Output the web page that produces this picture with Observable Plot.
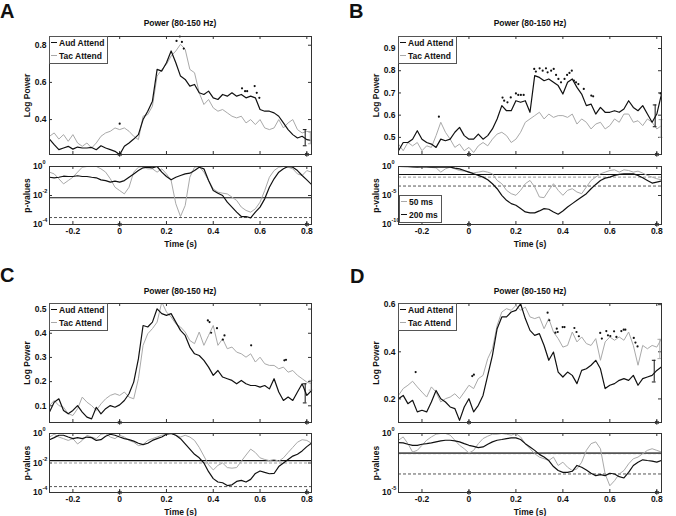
<!DOCTYPE html>
<html><head><meta charset="utf-8">
<script src="https://cdn.jsdelivr.net/npm/d3@7"></script>
<script src="https://cdn.jsdelivr.net/npm/@observablehq/plot@0.6"></script>
<style>
body{margin:0;background:#fff;}
#fig{position:relative;width:676px;height:516px;background:#fff;font-family:"Liberation Sans",Arial,sans-serif;font-weight:bold;color:#111;overflow:hidden}
.letter{position:absolute;font-size:20px;font-weight:bold;line-height:1}
.title{position:absolute;font-size:8.5px;text-align:center;width:200px;line-height:1}
.legend{position:absolute;border:1px solid #555;background:#fff;font-size:8.5px;line-height:13px;padding:0 3px 0 1px;white-space:nowrap}
.legend .sw{display:inline-block;width:6px;height:0;vertical-align:middle;margin-right:2px;position:relative;top:-1px}
</style></head><body><div id="fig"></div><script>
// ---------- data ----------
const time = [-0.30,-0.28,-0.26,-0.24,-0.22,-0.20,-0.18,-0.16,-0.14,-0.12,-0.10,-0.08,-0.06,-0.04,-0.02,0,0.02,0.04,0.06,0.08,0.10,0.12,0.14,0.16,0.18,0.20,0.22,0.24,0.26,0.28,0.30,0.32,0.34,0.36,0.38,0.40,0.42,0.44,0.46,0.48,0.50,0.52,0.54,0.56,0.58,0.60,0.62,0.64,0.66,0.68,0.70,0.72,0.74,0.76,0.78,0.80,0.82];
const xTicks = [-0.2, 0, 0.2, 0.4, 0.6, 0.8];
const stimTimes = [0, 0.8];

// Log power, Aud Attend (black) / Tac Attend (gray)
const audA = [0.295,0.265,0.238,0.247,0.256,0.241,0.252,0.247,0.247,0.250,0.238,0.259,0.247,0.238,0.229,0.211,0.256,0.274,0.295,0.319,0.400,0.445,0.499,0.670,0.661,0.706,0.769,0.706,0.634,0.616,0.580,0.589,0.544,0.535,0.553,0.517,0.508,0.535,0.526,0.544,0.526,0.535,0.517,0.526,0.517,0.454,0.445,0.445,0.436,0.418,0.382,0.346,0.319,0.301,0.310,0.292,0.288];
const tacA = [0.310,0.328,0.295,0.319,0.283,0.319,0.274,0.256,0.274,0.247,0.274,0.310,0.328,0.337,0.355,0.346,0.355,0.337,0.310,0.292,0.418,0.427,0.472,0.634,0.670,0.697,0.742,0.769,0.805,0.778,0.670,0.652,0.544,0.481,0.508,0.463,0.445,0.454,0.436,0.418,0.409,0.418,0.382,0.400,0.373,0.400,0.355,0.346,0.355,0.400,0.355,0.382,0.400,0.346,0.328,0.337,0.328];
const audB = [0.440,0.477,0.477,0.492,0.530,0.492,0.477,0.470,0.455,0.492,0.485,0.492,0.523,0.545,0.508,0.492,0.492,0.515,0.492,0.508,0.538,0.583,0.643,0.620,0.620,0.665,0.658,0.665,0.613,0.778,0.770,0.755,0.763,0.748,0.733,0.695,0.748,0.763,0.725,0.695,0.643,0.650,0.605,0.635,0.613,0.613,0.620,0.613,0.628,0.665,0.635,0.620,0.643,0.605,0.568,0.605,0.695];
const tacB = [0.470,0.440,0.477,0.462,0.477,0.440,0.462,0.455,0.508,0.568,0.523,0.492,0.455,0.470,0.440,0.455,0.432,0.462,0.477,0.462,0.492,0.515,0.523,0.508,0.477,0.492,0.523,0.568,0.583,0.598,0.613,0.583,0.605,0.590,0.598,0.598,0.590,0.605,0.560,0.583,0.568,0.538,0.560,0.568,0.538,0.553,0.583,0.568,0.605,0.605,0.568,0.575,0.553,0.583,0.568,0.538,0.553];
const audC = [0.074,0.115,0.129,0.081,0.067,0.081,0.101,0.074,0.053,0.046,0.094,0.067,0.088,0.101,0.094,0.104,0.122,0.150,0.198,0.294,0.432,0.426,0.446,0.501,0.481,0.474,0.481,0.446,0.412,0.391,0.343,0.315,0.308,0.288,0.260,0.226,0.246,0.219,0.212,0.205,0.191,0.205,0.191,0.184,0.184,0.177,0.184,0.170,0.212,0.157,0.122,0.136,0.122,0.157,0.191,0.143,0.163];
const tacC = [0.101,0.122,0.101,0.094,0.067,0.060,0.088,0.136,0.115,0.101,0.081,0.108,0.129,0.143,0.150,0.143,0.157,0.136,0.129,0.212,0.350,0.398,0.419,0.446,0.529,0.488,0.467,0.439,0.426,0.405,0.370,0.357,0.405,0.350,0.391,0.432,0.350,0.377,0.336,0.343,0.322,0.315,0.301,0.315,0.281,0.301,0.274,0.267,0.267,0.253,0.260,0.239,0.246,0.226,0.212,0.198,0.191];
const audD = [0.201,0.215,0.180,0.194,0.145,0.152,0.145,0.187,0.236,0.201,0.187,0.166,0.159,0.109,0.166,0.201,0.145,0.173,0.215,0.300,0.385,0.498,0.548,0.548,0.569,0.576,0.604,0.541,0.491,0.470,0.477,0.427,0.364,0.399,0.314,0.293,0.314,0.300,0.265,0.321,0.328,0.343,0.364,0.328,0.244,0.258,0.265,0.279,0.286,0.279,0.300,0.258,0.286,0.293,0.300,0.321,0.336];
const tacD = [0.215,0.244,0.258,0.275,0.251,0.229,0.208,0.251,0.229,0.187,0.201,0.208,0.222,0.201,0.229,0.258,0.244,0.286,0.300,0.371,0.413,0.512,0.569,0.583,0.576,0.597,0.576,0.590,0.548,0.541,0.548,0.498,0.541,0.484,0.456,0.420,0.427,0.484,0.442,0.463,0.435,0.427,0.456,0.364,0.442,0.463,0.449,0.463,0.449,0.484,0.427,0.343,0.427,0.413,0.427,0.420,0.456];

// significance dots (time, log power)
const sigA_t = [0.0,0.243,0.257,0.266,0.274,0.523,0.536,0.545,0.577,0.586,0.597];
const sigA_v = [0.378,0.823,0.847,0.818,0.782,0.568,0.553,0.553,0.580,0.544,0.517];
const sigB_t = [-0.128,0.143,0.150,0.164,0.178,0.200,0.210,0.221,0.233,0.278,0.285,0.301,0.314,0.328,0.335,0.350,0.361,0.371,0.381,0.392,0.407,0.418,0.428,0.438,0.447,0.456,0.466,0.489,0.521,0.529,0.816];
const sigB_v = [0.593,0.679,0.665,0.658,0.680,0.698,0.691,0.691,0.691,0.808,0.796,0.811,0.800,0.811,0.793,0.800,0.808,0.781,0.763,0.748,0.763,0.781,0.790,0.800,0.755,0.748,0.740,0.718,0.688,0.685,0.698];
const sigC_t = [0.377,0.384,0.391,0.416,0.441,0.448,0.562,0.704,0.711];
const sigC_v = [0.453,0.446,0.402,0.421,0.374,0.391,0.350,0.288,0.290];
const sigD_t = [-0.227,0.014,0.021,0.335,0.342,0.368,0.374,0.378,0.399,0.407,0.449,0.458,0.468,0.559,0.566,0.585,0.592,0.602,0.618,0.628,0.649,0.659,0.666,0.702,0.709,0.718];
const sigD_v = [0.314,0.297,0.303,0.566,0.534,0.481,0.498,0.484,0.505,0.505,0.501,0.484,0.466,0.480,0.456,0.488,0.470,0.467,0.487,0.463,0.488,0.494,0.494,0.459,0.439,0.423];

// error bars: [time, low, high] for Aud and Tac
const errAudA = [0.793, 0.259, 0.346], errTacA = [0.815, 0.270, 0.335];
const errAudB = [0.793, 0.548, 0.646], errTacB = [0.818, 0.500, 0.580];
const errAudC = [0.793, 0.112, 0.191], errTacC = [0.818, 0.165, 0.205];
const errAudD = [0.789, 0.272, 0.364], errTacD = [0.813, 0.371, 0.453];

// p-values as log10 exponents (black = Aud / 200 ms, gray = Tac / 50 ms)
const pAudA = [-0.74,-0.78,-0.74,-0.67,-0.69,-0.69,-0.64,-0.69,-0.69,-0.74,-0.78,-0.92,-0.97,-1.08,-1.01,-1.08,-0.97,-0.74,-0.51,-0.28,-0.09,-0.05,-0.09,0,-0.39,-0.69,-0.92,-0.74,-0.62,-0.51,-0.46,-0.28,-0.05,-0.16,-0.97,-1.66,-1.84,-2.00,-2.46,-2.80,-3.15,-3.45,-3.45,-3.54,-3.15,-2.80,-2.23,-1.43,-0.85,-0.39,-0.16,0,-0.05,-0.28,-0.62,-0.92,-1.24];
const pTacA = [-0.39,-0.51,-0.85,-1.20,-0.97,-0.74,-0.39,-0.05,0,0,0,-0.16,-0.39,-0.85,-1.43,-1.66,-1.89,-1.43,-0.39,-0.05,0,-0.16,-0.16,-0.39,-0.16,-0.51,-0.97,-2.57,-3.45,-2.69,-0.74,-0.05,0,-0.39,-0.97,-1.54,-1.77,-1.84,-1.89,-2.11,-2.34,-2.80,-3.03,-3.15,-2.92,-2.46,-1.66,-0.74,-0.28,-0.05,0,-0.05,-0.16,-0.51,-0.62,-0.28,-0.39];
const pAudB = [0,0,0,-0.06,-0.11,-0.06,-0.06,-0.11,-0.11,-0.11,-0.11,-0.11,-0.29,-0.40,-0.69,-0.97,-1.26,-1.54,-1.83,-2.29,-2.97,-3.83,-4.97,-5.83,-6.40,-6.69,-7.26,-7.83,-8.0,-8.0,-7.66,-7.26,-7.37,-7.83,-8.23,-7.66,-6.97,-6.40,-5.83,-5.26,-4.69,-3.83,-3.09,-2.40,-2.0,-1.83,-1.54,-1.37,-1.26,-1.26,-1.26,-1.54,-1.94,-2.40,-2.86,-2.69,-2.51];
const pTacB = [0,-0.06,-0.11,-0.06,0,-0.06,-0.11,-0.17,-0.23,-0.97,-0.40,-0.11,-0.40,-0.69,-0.80,-0.97,-1.09,-0.97,-0.80,-0.97,-1.26,-2.40,-2.97,-4.11,-4.69,-4.97,-4.11,-2.97,-2.40,-3.54,-5.26,-5.37,-4.11,-2.97,-4.11,-4.97,-4.11,-3.83,-4.40,-4.69,-3.54,-2.40,-1.83,-1.26,-0.97,-0.69,-0.57,-0.97,-0.57,-0.69,-0.97,-0.80,-1.14,-1.54,-1.83,-2.11,-2.29];
const pAudC = [-0.42,-0.28,-0.12,-0.12,-0.24,-0.35,-0.28,-0.35,-0.24,-0.28,-0.47,-0.42,-0.19,-0.05,-0.12,-0.24,-0.35,-0.42,-0.52,-0.66,-0.75,-0.66,-0.47,-0.35,-0.24,-0.05,0,-0.12,-0.35,-0.71,-1.06,-1.41,-1.65,-2.0,-2.59,-3.06,-3.29,-3.34,-3.53,-3.48,-3.25,-3.18,-3.29,-3.11,-2.71,-2.54,-2.64,-2.73,-2.71,-2.24,-2.0,-1.76,-1.53,-1.41,-1.18,-0.89,-0.66];
const pTacC = [-0.24,-0.05,-0.24,-0.35,-0.47,-0.35,-0.71,-0.47,-0.12,-0.24,-0.35,-0.05,0,-0.24,-0.35,-0.12,-0.24,-0.47,-0.59,-0.82,-0.75,-0.47,-0.35,-0.24,-0.12,-0.05,0,-0.12,-0.24,-0.12,-0.24,-0.47,-0.94,-1.53,-2.12,-2.47,-2.16,-2.0,-2.31,-2.35,-2.31,-1.88,-1.46,-1.06,-1.29,-1.65,-1.76,-1.84,-1.76,-1.88,-1.65,-1.29,-0.94,-0.59,-0.42,-0.47,-0.66];
const pAudD = [-0.77,-0.80,-0.91,-1.0,-1.0,-0.91,-0.86,-0.80,-0.71,-0.63,-0.57,-0.57,-0.63,-0.71,-0.86,-1.0,-1.09,-1.2,-1.14,-0.91,-0.71,-0.57,-0.51,-0.43,-0.37,-0.37,-0.51,-0.86,-1.14,-1.43,-1.77,-2.0,-2.29,-2.8,-3.14,-3.29,-3.29,-3.2,-2.71,-2.86,-3.09,-3.37,-3.57,-3.49,-3.57,-3.37,-3.43,-3.66,-3.77,-3.29,-2.71,-2.43,-2.23,-2.29,-2.34,-2.43,-2.29];
const pTacD = [-0.57,-0.29,-0.86,-1.57,-1.43,-1.0,-0.57,-0.29,-0.06,0,0,-0.14,-0.57,-1.0,-1.29,-1.66,-1.43,-0.86,-0.43,-0.23,-0.06,-0.06,0,-0.06,-0.14,0,-0.29,-0.86,-1.29,-1.71,-2.0,-2.14,-2.29,-2.0,-2.71,-2.43,-2.86,-3.14,-3.0,-2.43,-1.43,-0.86,-0.71,-1.29,-3.43,-4.43,-4.0,-3.43,-3.14,-2.57,-2.14,-2.0,-1.71,-1.43,-1.29,-1.43,-1.57];

// threshold lines (log10 p) : solid, light dashed, dark dashed
const thrSolid = [-2.16, -1.37, -1.84, -1.66];
const thrLight = [null, -1.83, -2.0, -1.71];
const thrDark  = [-3.52, -3.37, -3.6, -3.43];

// axis ticks / domains
const powerTicks = [[0.4,0.6,0.8],[0.5,0.6,0.7,0.8,0.9],[0.1,0.2,0.3,0.4,0.5],[0.2,0.4,0.6]];
const powerDomains = [[0.212,0.847],[0.423,0.954],[0.031,0.523],[0.100,0.605]];
const pTicks = [[1e-4,1e-2,1],[1e-10,1e-5,1],[1e-4,1e-2,1],[1e-5,1]];
const pDomains = [[1e-4,1],[1e-10,1],[1e-4,1],[1e-5,1]];
const panelLetters = ["A","B","C","D"];
const titleText = "Power (80-150 Hz)";
const legendTop = ["Aud Attend","Tac Attend"];
const legendP = ["50 ms","200 ms"];

// ---------- drawing ----------
const fig = document.getElementById("fig");
const FONT = '"Liberation Sans", Arial, sans-serif';
const BLACK = "#111", GRAY = "#a9a9a9";
const xDomain = [-0.3, 0.82];

function place(el, left, top){ el.style.position="absolute"; el.style.left=left+"px"; el.style.top=top+"px"; fig.appendChild(el); return el; }
function series(ts, vs){ return ts.map((t,i)=>({t, v: vs[i]})); }
function pseries(ts, es){ return ts.map((t,i)=>({t, v: Math.pow(10, es[i])})); }

function errMarks(e, stroke){
  const d = [{t:e[0], lo:e[1], hi:e[2]}];
  return [
    Plot.ruleX(d, {x:"t", y1:"lo", y2:"hi", stroke, strokeWidth:1}),
    Plot.ruleY(d, {y:"lo", x1:r=>r.t-0.008, x2:r=>r.t+0.008, stroke}),
    Plot.ruleY(d, {y:"hi", x1:r=>r.t-0.008, x2:r=>r.t+0.008, stroke})
  ];
}

function subplot({fx0, fx1, fy0, fy1, y, yTicks, yFmt, yLabel, bottomAxis, logLabels, marks}){
  const ml = 48, mr = 6, mt = 4, mb = bottomAxis ? 30 : 4;
  const fw = fx1 - fx0, fh = fy1 - fy0;
  const axes = [
    Plot.tickX(xTicks, {x:d=>d, insetTop: fh-3, stroke:"#333"}),
    Plot.tickX(xTicks, {x:d=>d, insetBottom: fh-3, stroke:"#333"}),
    Plot.tickY(yTicks, {y:d=>d, insetRight: fw-3, stroke:"#333"}),
    Plot.tickY(yTicks, {y:d=>d, insetLeft: fw-3, stroke:"#333"}),
    Plot.axisY({ticks: yTicks, tickSize:0, tickPadding:3, tickFormat: logLabels ? (()=>"") : yFmt, label:yLabel, labelAnchor:"center", labelOffset:26, labelArrow:"none"})
  ];
  if (logLabels) {
    axes.push(Plot.text(yTicks, {y:d=>d, frameAnchor:"left", text:()=>"10", textAnchor:"end", dx:-7, fontSize:8.5, fontWeight:"bold"}));
    axes.push(Plot.text(yTicks, {y:d=>d, frameAnchor:"left", text:d=>String(Math.round(Math.log10(d))), textAnchor:"start", dx:-7, dy:-4, fontSize:5.5, fontWeight:"bold"}));
  }
  if (bottomAxis) axes.push(Plot.axisX({ticks: xTicks, tickSize:0, tickPadding:3, tickFormat:d=>String(d), label:"Time (s)", labelAnchor:"center", labelOffset:22, labelArrow:"none"}));
  const p = Plot.plot({
    width: ml+fw+mr, height: mt+fh+mb,
    marginLeft: ml, marginRight: mr, marginTop: mt, marginBottom: mb,
    style: {fontFamily: FONT, fontSize:"8.5px", fontWeight:"bold", color:BLACK, background:"none", overflow:"visible"},
    x: {domain: xDomain, axis: bottomAxis ? undefined : null},
    y: y,
    marks: [...axes, ...marks, Plot.frame({stroke:"#333"})]
  });
  return place(p, fx0-ml, fy0-mt);
}

function legendBox(left, top, labels, colors){
  const d = document.createElement("div");
  d.className = "legend";
  d.innerHTML = labels.map((l,i)=>`<div><span class="sw" style="border-top:1px solid ${colors[i]}"></span>${l}</div>`).join("");
  return place(d, left, top);
}

const layout = [
  {fx0:49, fx1:311, ty0:36, ty1:154, py0:166, py1:224, lx:0, ly:1, tx:80, tyTitle:19},
  {fx0:398, fx1:661, ty0:36, ty1:154, py0:166, py1:224, lx:349, ly:1, tx:430, tyTitle:19},
  {fx0:49, fx1:311, ty0:303, ty1:422, py0:433, py1:492, lx:0, ly:265, tx:80, tyTitle:287},
  {fx0:398, fx1:661, ty0:303, ty1:422, py0:433, py1:492, lx:350, ly:266, tx:430, tyTitle:287}
];
const auds = [audA, audB, audC, audD], tacs = [tacA, tacB, tacC, tacD];
const sigTs = [sigA_t, sigB_t, sigC_t, sigD_t], sigVs = [sigA_v, sigB_v, sigC_v, sigD_v];
const errAuds = [errAudA, errAudB, errAudC, errAudD], errTacs = [errTacA, errTacB, errTacC, errTacD];
const pAuds = [pAudA, pAudB, pAudC, pAudD], pTacs = [pTacA, pTacB, pTacC, pTacD];

layout.forEach((L, i) => {
  const let_ = document.createElement("div"); let_.className = "letter"; let_.textContent = panelLetters[i]; place(let_, L.lx, L.ly);
  const tt = document.createElement("div"); tt.className = "title"; tt.textContent = titleText; place(tt, L.tx, L.tyTitle);

  const stim = Plot.dot(stimTimes, {x:d=>d, frameAnchor:"bottom", symbol:"asterisk", r:2, stroke:BLACK, strokeWidth:1});

  subplot({fx0:L.fx0, fx1:L.fx1, fy0:L.ty0, fy1:L.ty1,
    y:{domain: powerDomains[i]}, yTicks: powerTicks[i], yFmt: d=>d.toFixed(1), yLabel:"Log Power", bottomAxis:false, logLabels:false,
    marks: [
      Plot.line(series(time, tacs[i]), {x:"t", y:"v", stroke:GRAY, strokeWidth:1, clip:true}),
      Plot.line(series(time, auds[i]), {x:"t", y:"v", stroke:BLACK, strokeWidth:1.2, clip:true}),
      Plot.dot(series(sigTs[i], sigVs[i]), {x:"t", y:"v", r:1.1, fill:BLACK, stroke:"none"}),
      ...errMarks(errTacs[i], GRAY),
      ...errMarks(errAuds[i], BLACK),
      stim
    ]});
  legendBox(L.fx0, L.ty0, legendTop, [BLACK, GRAY]);

  const rules = [];
  if (thrLight[i] !== null) rules.push(Plot.ruleY([Math.pow(10, thrLight[i])], {stroke:"#999", strokeDasharray:"3,2"}));
  rules.push(Plot.ruleY([Math.pow(10, thrDark[i])], {stroke:"#555", strokeDasharray:"3,2"}));
  rules.push(Plot.ruleY([Math.pow(10, thrSolid[i])], {stroke: i===3 ? "#555" : BLACK, strokeWidth: i===3 ? 1.8 : 1.1}));
  subplot({fx0:L.fx0, fx1:L.fx1, fy0:L.py0, fy1:L.py1,
    y:{type:"log", domain: pDomains[i]}, yTicks: pTicks[i], yFmt: null, yLabel:"p-values", bottomAxis:true, logLabels:true,
    marks: [
      ...rules,
      Plot.line(pseries(time, pTacs[i]), {x:"t", y:"v", stroke:GRAY, strokeWidth:1, clip:true}),
      Plot.line(pseries(time, pAuds[i]), {x:"t", y:"v", stroke:BLACK, strokeWidth:1.2, clip:true}),
      stim
    ]});
  if (i === 1) legendBox(399, 195, legendP, [GRAY, BLACK]);
});
</script></body></html>
